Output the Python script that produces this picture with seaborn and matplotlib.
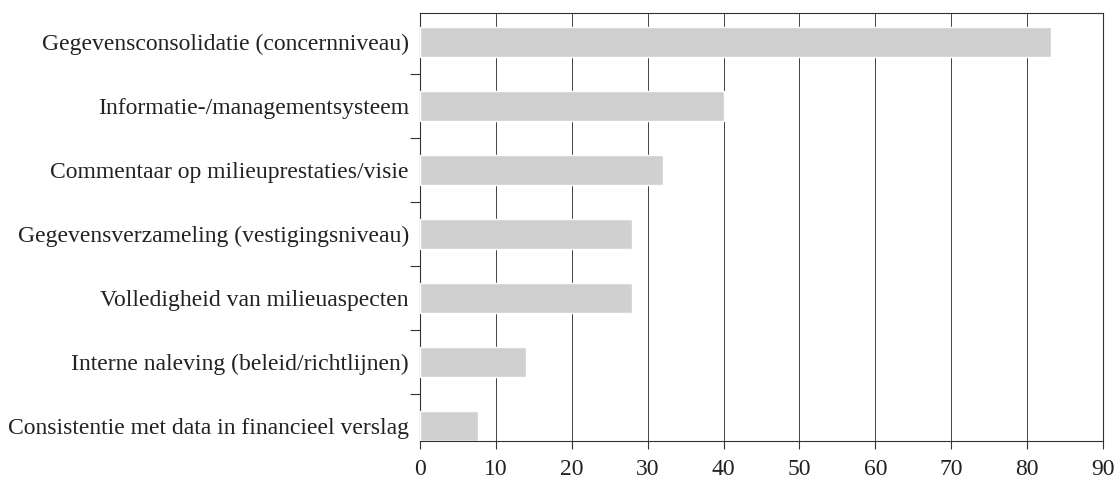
import matplotlib.pyplot as plt
import matplotlib
import pandas as pd
import seaborn as sns

sns.set_style('white')
matplotlib.rcParams['font.family'] = ['Liberation Serif', 'DejaVu Serif']
matplotlib.rcParams['xtick.bottom'] = True
matplotlib.rcParams['ytick.left'] = True

# data
categories = ['Gegevensconsolidatie (concernniveau)',
              'Informatie-/managementsysteem',
              'Commentaar op milieuprestaties/visie',
              'Gegevensverzameling (vestigingsniveau)',
              'Volledigheid van milieuaspecten',
              'Interne naleving (beleid/richtlijnen)',
              'Consistentie met data in financieel verslag']
values = [83.2, 40, 32, 28, 28, 14, 7.7]
xticks = [0, 10, 20, 30, 40, 50, 60, 70, 80, 90]

df = pd.DataFrame({'cat': categories, 'val': values})

fig = plt.figure(figsize=(11.15, 4.8), dpi=100)
ax = fig.add_axes([0.3767, 0.081, 0.6125, 0.892])

sns.barplot(data=df, x='val', y='cat', orient='h', color='#d0d0d0',
            saturation=1, width=0.47, ax=ax, zorder=3)

ax.set_xlim(0, 90)
ax.set_ylim(6.23, -0.45)
ax.set_xticks(xticks)
ax.set_xticklabels([str(t) for t in xticks])
ax.xaxis.grid(True, color='#444444', linewidth=0.7, zorder=0)
ax.set_axisbelow(True)

# y ticks between the categories
ax.set_yticks(range(len(categories)))
ax.set_yticklabels(categories)
ax.set_yticks([i + 0.5 for i in range(len(categories) - 1)], minor=True)
ax.tick_params(axis='y', which='major', left=False, length=0, pad=8, labelsize=17,
               labelcolor='#222222')
ax.tick_params(axis='y', which='minor', left=True, length=7, width=0.8, color='#333333', direction='out')
ax.tick_params(axis='x', which='major', bottom=True, length=6, width=0.8, color='#333333',
               direction='out', labelsize=17, pad=7, labelcolor='#222222')

for s in ax.spines.values():
    s.set_visible(True)
    s.set_color('#333333')
    s.set_linewidth(0.8)

ax.set_xlabel('')
ax.set_ylabel('')

fig.savefig('out.png', dpi=100)
